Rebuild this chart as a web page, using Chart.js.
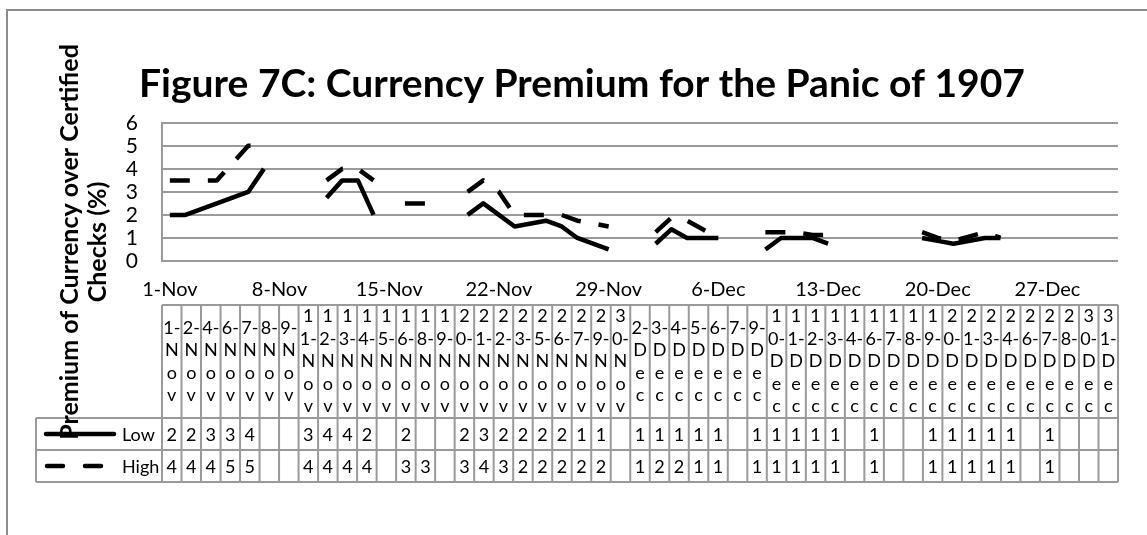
<!DOCTYPE html>
<html>
<head>
<meta charset="utf-8">
<script src="https://cdn.jsdelivr.net/npm/chart.js"></script>
<style>
  html, body { margin: 0; padding: 0; background: #fff; overflow: hidden; }
</style>
</head>
<body>
<canvas id="myChart" width="1147" height="535"></canvas>
<script>
// trading days shown in the data table
const dates = [
  "1-Nov", "2-Nov", "4-Nov", "6-Nov", "7-Nov", "8-Nov", "9-Nov", "11-Nov", "12-Nov", "13-Nov",
  "14-Nov", "15-Nov", "16-Nov", "18-Nov", "19-Nov", "20-Nov", "21-Nov", "22-Nov", "23-Nov", "25-Nov",
  "26-Nov", "27-Nov", "29-Nov", "30-Nov",
  "2-Dec", "3-Dec", "4-Dec", "5-Dec", "6-Dec", "7-Dec", "9-Dec", "10-Dec", "11-Dec", "12-Dec",
  "13-Dec", "14-Dec", "16-Dec", "17-Dec", "18-Dec", "19-Dec", "20-Dec", "21-Dec", "23-Dec", "24-Dec",
  "26-Dec", "27-Dec", "28-Dec", "30-Dec", "31-Dec",
];
const low = [
  2, 2, 2.5, 3, 4, null, null, 2.75, 3.5, 3.5,
  2, null, 2, null, null, 2, 2.5, 2, 1.5, 1.75,
  1.5, 1, 0.5, null,
  0.75, 1.375, 1, 1, 1, null, 0.5, 1, 1, 1,
  0.75, null, 1, null, null, 1, 0.875, 0.75, 1, 1,
  null, 1, null, null, null,
];
const high = [
  3.5, 3.5, 3.5, 5, 5, null, null, 3.5, 4, 4,
  3.5, null, 2.5, 2.5, null, 3, 3.5, 3, 2, 2,
  2, 1.75, 1.5, null,
  1.25, 1.875, 1.75, 1.375, 1, null, 1.25, 1.25, 1.25, 1.125,
  1.125, null, 1, null, null, 1.25, 1, 0.875, 1.25, 1,
  null, 1, null, null, null,
];
const xTickLabels = ["1-Nov", "8-Nov", "15-Nov", "22-Nov", "29-Nov", "6-Dec", "13-Dec", "20-Dec", "27-Dec"];
const seriesNames = ["Low", "High"];
const titleText = "Figure 7C: Currency Premium for the Panic of 1907";
const yTitle = ["Premium of Currency over Certified", "Checks (%)"];

const FONT = "Lato, 'Open Sans', sans-serif";
const GRID = "#9a9a9a";

// days counted from 1-Nov
function dayIndex(label) {
  const [d, m] = label.split("-");
  return m === "Nov" ? +d - 1 : 29 + +d;
}

const toPoints = (vals) => vals.map((v, i) => ({ x: dayIndex(dates[i]), y: v }));

const framePlugin = {
  id: "frame",
  beforeDraw(chart) {
    const ctx = chart.ctx;
    ctx.save();
    ctx.strokeStyle = "#8c8c8c";
    ctx.lineWidth = 2;
    ctx.beginPath();
    ctx.moveTo(7, 535);
    ctx.lineTo(7, 10);
    ctx.lineTo(1147, 10);
    ctx.stroke();
    ctx.restore();
  },
};

const tablePlugin = {
  id: "dataTable",
  afterDraw(chart) {
    const ctx = chart.ctx;
    const a = chart.chartArea;
    const n = dates.length;
    const cw = (a.right - a.left) / n;
    const top = 305, hdrBot = 418, row1 = 450, bot = 482, legL = 36;

    ctx.save();
    ctx.strokeStyle = GRID;
    ctx.lineWidth = 2;
    ctx.beginPath();
    ctx.moveTo(a.left, top); ctx.lineTo(a.right, top);
    [hdrBot, row1, bot].forEach((y) => { ctx.moveTo(legL, y); ctx.lineTo(a.right, y); });
    for (let i = 0; i <= n; i++) {
      const x = a.left + i * cw;
      ctx.moveTo(x, top); ctx.lineTo(x, bot);
    }
    ctx.moveTo(legL, hdrBot); ctx.lineTo(legL, bot);
    ctx.stroke();

    // header: dates wrapped one char per line, like Excel does in narrow cells
    ctx.fillStyle = "#000";
    ctx.font = "18px " + FONT;
    ctx.textAlign = "center";
    ctx.textBaseline = "middle";
    const lh = 22.5;
    dates.forEach((d, i) => {
      const [day, mon] = d.split("-");
      const lines = day.length > 1 ? [day[0], day[1] + "-"] : [day + "-"];
      lines.push(...mon.split(""));
      const cx = a.left + (i + 0.5) * cw;
      const y0 = (top + hdrBot) / 2 - ((lines.length - 1) * lh) / 2;
      lines.forEach((s, k) => ctx.fillText(s, cx, y0 + k * lh));
    });

    // values
    [low, high].forEach((vals, r) => {
      const cy = r === 0 ? (hdrBot + row1) / 2 : (row1 + bot) / 2;
      vals.forEach((v, i) => {
        if (v === null) return;
        ctx.fillText(String(Math.round(v)), a.left + (i + 0.5) * cw, cy + 1);
      });
    });

    // legend keys
    ctx.lineWidth = 4.5;
    ctx.lineCap = "round";
    ctx.strokeStyle = "#000";
    ctx.beginPath();
    ctx.moveTo(46, (hdrBot + row1) / 2); ctx.lineTo(114, (hdrBot + row1) / 2);
    ctx.stroke();
    ctx.setLineDash([16, 22]);
    ctx.beginPath();
    ctx.moveTo(47, (row1 + bot) / 2); ctx.lineTo(114, (row1 + bot) / 2);
    ctx.stroke();
    ctx.setLineDash([]);
    ctx.textAlign = "left";
    ctx.fillText(seriesNames[0], 122, (hdrBot + row1) / 2 + 1);
    ctx.fillText(seriesNames[1], 122, (row1 + bot) / 2 + 1);

    // y axis title (drawn last, it overlaps the legend like the original)
    ctx.font = "bold 25px " + FONT;
    ctx.textAlign = "center";
    ctx.translate(84, 242);
    ctx.rotate(-Math.PI / 2);
    ctx.fillText(yTitle[0], 0, -14);
    ctx.fillText(yTitle[1], 0, 14);
    ctx.restore();
  },
};

const ctx = document.getElementById("myChart");

new Chart(ctx, {
  type: "line",
  data: {
    datasets: [
      {
        label: seriesNames[0],
        data: toPoints(low),
        borderColor: "#000",
        borderWidth: 4.5,
        borderCapStyle: "butt",
        borderJoinStyle: "round",
        pointRadius: 0,
        spanGaps: false,
      },
      {
        label: seriesNames[1],
        data: toPoints(high),
        borderColor: "#000",
        borderWidth: 4.5,
        borderDash: [20, 18],
        borderCapStyle: "butt",
        borderJoinStyle: "round",
        pointRadius: 0,
        spanGaps: false,
      },
    ],
  },
  options: {
    responsive: false,
    animation: false,
    layout: { padding: { left: 46, right: 29, top: 0, bottom: 0 } },
    scales: {
      x: {
        type: "linear",
        min: -0.5,
        max: 60.5,
        afterBuildTicks: (scale) => {
          scale.ticks = xTickLabels.map((l) => ({ value: dayIndex(l) }));
        },
        afterFit: (scale) => { scale.height = 274; },
        ticks: {
          autoSkip: false,
          maxRotation: 0,
          padding: 17,
          color: "#000",
          font: { family: FONT, size: 20 },
          callback: (v) => xTickLabels.find((l) => dayIndex(l) === v) || "",
        },
        grid: { display: false, drawTicks: false },
        border: { display: false },
      },
      y: {
        min: 0,
        max: 6,
        afterFit: (scale) => { scale.width = 116; },
        ticks: {
          stepSize: 1,
          autoSkip: false,
          padding: 24,
          color: "#000",
          font: { family: FONT, size: 21 },
        },
        grid: { color: GRID, lineWidth: 2, drawTicks: false },
        border: { display: true, color: GRID, width: 2 },
      },
    },
    plugins: {
      legend: { display: false },
      tooltip: { enabled: false },
      title: {
        display: true,
        text: titleText,
        color: "#000",
        font: { family: FONT, size: 39, weight: "bold" },
        padding: { top: 61, bottom: 15 },
      },
    },
  },
  plugins: [framePlugin, tablePlugin],
});
</script>
</body>
</html>
